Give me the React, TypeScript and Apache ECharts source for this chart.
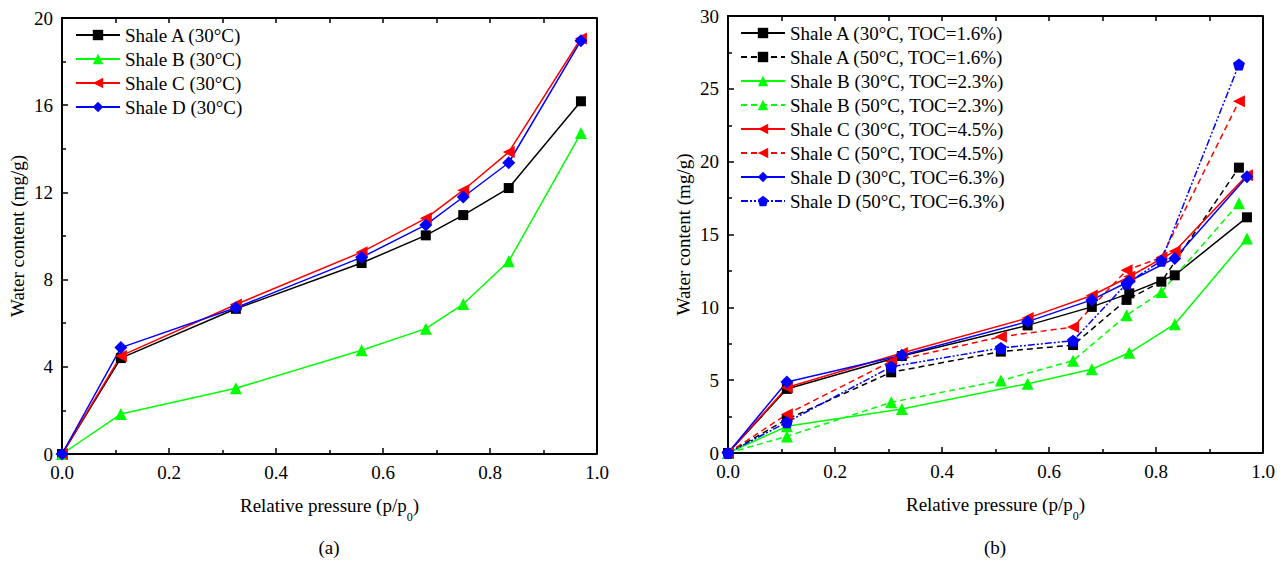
import React, { useEffect, useRef } from "react";
import * as echarts from "echarts";

const X30 = [0, 0.11, 0.325, 0.56, 0.68, 0.75, 0.835, 0.97];
const X50 = [0, 0.11, 0.305, 0.51, 0.645, 0.745, 0.81, 0.955];

const A30 = [0, 4.4, 6.66, 8.76, 10.03, 10.96, 12.2, 16.18];
const B30 = [0, 1.83, 3.02, 4.76, 5.75, 6.88, 8.84, 14.72];
const C30 = [0, 4.5, 6.86, 9.26, 10.81, 12.1, 13.85, 19.06];
const D30 = [0, 4.88, 6.71, 9.02, 10.51, 11.79, 13.36, 18.96];

const A50 = [0, 2.31, 5.54, 6.96, 7.41, 10.51, 11.76, 19.59];
const B50 = [0, 1.14, 3.48, 4.97, 6.34, 9.45, 11.06, 17.15];
const C50 = [0, 2.66, 6.29, 7.98, 8.65, 12.55, 13.42, 24.14];
const D50 = [0, 2.11, 5.92, 7.21, 7.71, 11.63, 13.2, 26.67];

const NAMES_A = ["Shale A (30°C)", "Shale B (30°C)", "Shale C (30°C)", "Shale D (30°C)"];
const NAMES_B = [
  "Shale A (30°C, TOC=1.6%)",
  "Shale A (50°C, TOC=1.6%)",
  "Shale B (30°C, TOC=2.3%)",
  "Shale B (50°C, TOC=2.3%)",
  "Shale C (30°C, TOC=4.5%)",
  "Shale C (50°C, TOC=4.5%)",
  "Shale D (30°C, TOC=6.3%)",
  "Shale D (50°C, TOC=6.3%)",
];

const FONT = "Liberation Serif, Times New Roman, DejaVu Serif, serif";
const PENTAGON = "path://M0,-10L9.51,-3.09L5.88,8.09L-5.88,8.09L-9.51,-3.09Z";

const BLACK = "#000000";
const GREEN = "#00ff00";
const RED = "#ff0000";
const BLUE = "#0000ff";

const pairs = (xs: number[], ys: number[]) => xs.map((x, i) => [x, ys[i]]);

type Style = { color: string; symbol: string; size: number; rotate?: number; dash?: any };

const mk = (name: string, xs: number[], ys: number[], s: Style, idx: number) => ({
  name,
  type: "line",
  xAxisIndex: idx * 2,
  yAxisIndex: idx,
  data: pairs(xs, ys),
  symbol: s.symbol,
  symbolSize: s.size,
  symbolRotate: s.rotate || 0,
  showSymbol: true,
  itemStyle: { color: s.color, borderWidth: 0, opacity: 1 },
  lineStyle: { color: s.color, width: 1.5, type: s.dash || "solid" },
  emphasis: { disabled: true },
});

const SQ: Style = { color: BLACK, symbol: "rect", size: 10 };
const TRI: Style = { color: GREEN, symbol: "triangle", size: 12 };
const LTRI: Style = { color: RED, symbol: "triangle", size: 12, rotate: 90 };
const DIA: Style = { color: BLUE, symbol: "diamond", size: 13 };
const PENT: Style = { color: BLUE, symbol: PENTAGON, size: 12 };
const DASH = [6, 4];
const DASHDOT = [7, 2, 2, 2, 2, 2];

export default function App() {
  const ref = useRef<HTMLDivElement>(null);
  useEffect(() => {
    if (!ref.current) return;
    const chart = echarts.init(ref.current, undefined, { renderer: "svg" });

    const grids = [
      { left: 62, top: 18, width: 535, height: 436 },
      { left: 728, top: 16, width: 535, height: 437 },
    ];

    const bottomX = (gi: number) => ({
      type: "value",
      gridIndex: gi,
      position: "bottom",
      min: 0,
      max: 1,
      interval: 0.2,
      name: "{a|Relative pressure (p/p}{s|0}{a|)}",
      nameLocation: "middle",
      nameGap: 42,
      nameTextStyle: {
        fontFamily: FONT,
        rich: {
          a: { fontFamily: FONT, fontSize: 19, color: "#000" },
          s: { fontFamily: FONT, fontSize: 12, color: "#000", verticalAlign: "bottom", padding: [0, 0, -8, 0] },
        },
      },
      axisLine: { show: true, lineStyle: { color: "#000", width: 2 } },
      axisTick: { show: true, inside: true, length: 6, lineStyle: { color: "#000", width: 1.5 } },
      minorTick: { show: true, splitNumber: 2, length: 4, lineStyle: { color: "#000", width: 1.5 } },
      splitLine: { show: false },
      axisLabel: {
        margin: 9,
        fontFamily: FONT,
        fontSize: 19,
        color: "#000",
        formatter: (v: number) => v.toFixed(1),
      },
    });
    const topX = (gi: number) => ({
      type: "value",
      gridIndex: gi,
      position: "top",
      min: 0,
      max: 1,
      interval: 0.2,
      axisLine: { show: true, onZero: false, lineStyle: { color: "#000", width: 2 } },
      axisTick: { show: true, inside: true, length: 5, lineStyle: { color: "#000", width: 1.5 } },
      minorTick: { show: true, splitNumber: 2, length: 5, lineStyle: { color: "#000", width: 1.5 } },
      splitLine: { show: false },
      axisLabel: { show: false },
    });
    const leftY = (gi: number, max: number, interval: number) => ({
      type: "value",
      gridIndex: gi,
      min: 0,
      max,
      interval,
      name: "Water content (mg/g)",
      nameLocation: "middle",
      nameGap: 35,
      nameTextStyle: { fontFamily: FONT, fontSize: 19, color: "#000" },
      axisLine: { show: true, onZero: false, lineStyle: { color: "#000", width: 2 } },
      axisTick: { show: true, inside: true, length: 6, lineStyle: { color: "#000", width: 1.5 } },
      minorTick: { show: true, splitNumber: 2, length: 4, lineStyle: { color: "#000", width: 1.5 } },
      splitLine: { show: false },
      axisLabel: { margin: 9, fontFamily: FONT, fontSize: 19, color: "#000" },
    });

    const rightBorders = grids.map((g) => ({
      type: "line",
      shape: { x1: g.left + g.width, y1: g.top, x2: g.left + g.width, y2: g.top + g.height },
      style: { stroke: "#000", lineWidth: 2 },
      silent: true,
    }));

    const titleStyle = { fontFamily: FONT, fontSize: 19, fontWeight: "normal", color: "#000" };

    const option: any = {
      animation: false,
      backgroundColor: "#ffffff",
      textStyle: { fontFamily: FONT },
      grid: grids,
      xAxis: [bottomX(0), topX(0), bottomX(1), topX(1)],
      yAxis: [leftY(0, 20, 4), leftY(1, 30, 5)],
      title: [
        { text: "(a)", left: 329, top: 538, padding: 0, textAlign: "center", textStyle: titleStyle },
        { text: "(b)", left: 995, top: 538, padding: 0, textAlign: "center", textStyle: titleStyle },
      ],
      legend: [
        {
          data: NAMES_A,
          orient: "vertical",
          left: 75,
          top: 25,
          padding: 0,
          itemWidth: 44,
          itemHeight: 13,
          itemGap: 4,
          textStyle: { fontFamily: FONT, fontSize: 19, color: "#000", lineHeight: 20 },
          selectedMode: false,
        },
        {
          data: NAMES_B,
          orient: "vertical",
          left: 740,
          top: 23,
          padding: 0,
          itemWidth: 44,
          itemHeight: 13,
          itemGap: 4,
          textStyle: { fontFamily: FONT, fontSize: 19, color: "#000", lineHeight: 20 },
          selectedMode: false,
        },
      ],
      graphic: rightBorders,
      series: [
        mk(NAMES_A[0], X30, A30, SQ, 0),
        mk(NAMES_A[1], X30, B30, TRI, 0),
        mk(NAMES_A[2], X30, C30, LTRI, 0),
        mk(NAMES_A[3], X30, D30, DIA, 0),
        mk(NAMES_B[0], X30, A30, SQ, 1),
        mk(NAMES_B[1], X50, A50, { ...SQ, dash: DASH }, 1),
        mk(NAMES_B[2], X30, B30, TRI, 1),
        mk(NAMES_B[3], X50, B50, { ...TRI, dash: DASH }, 1),
        mk(NAMES_B[4], X30, C30, LTRI, 1),
        mk(NAMES_B[5], X50, C50, { ...LTRI, dash: DASH }, 1),
        mk(NAMES_B[6], X30, D30, DIA, 1),
        mk(NAMES_B[7], X50, D50, { ...PENT, dash: DASHDOT }, 1),
      ],
    };
    chart.setOption(option);
    return () => chart.dispose();
  }, []);

  return (
    <div
      ref={ref}
      style={{ position: "fixed", left: 0, top: 0, width: 1282, height: 566, background: "#fff" }}
    />
  );
}
